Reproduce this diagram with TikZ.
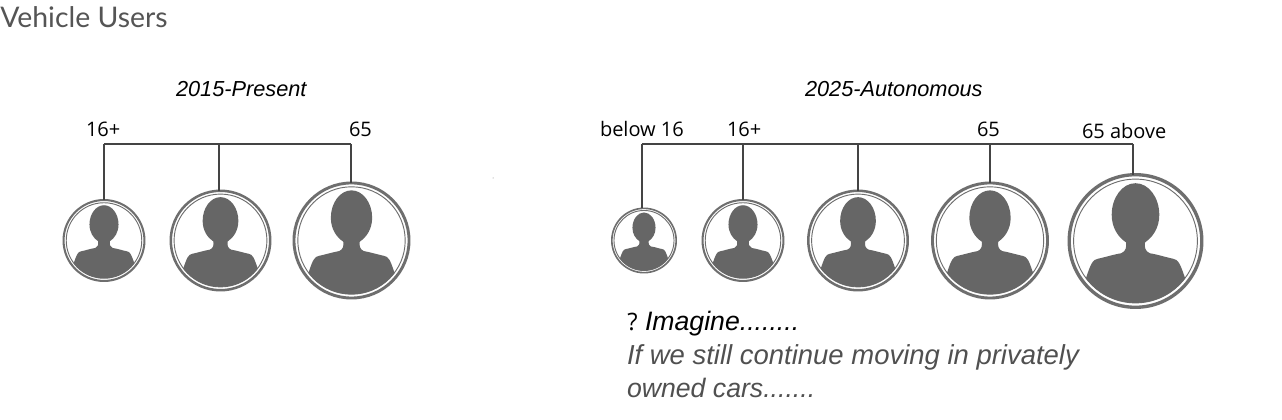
\documentclass[tikz,border=0pt]{standalone}
\usepackage{fontspec}
\setmainfont{Open Sans}
\newfontfamily\headfont{Lato}
\newfontfamily\notefont{Liberation Sans}
\definecolor{figgray}{HTML}{666666}
\definecolor{ringgray}{HTML}{6E6E6E}
\definecolor{wiregray}{HTML}{444444}
\definecolor{notegray}{HTML}{505050}
\definecolor{headgray}{HTML}{555555}
\tikzset{
  wire/.style={draw=wiregray,line width=1.15pt},
  agelabel/.style={anchor=base west,inner sep=0pt,outer sep=0pt,text=black,font=\fontsize{15}{18}\selectfont},
  yeartitle/.style={anchor=base west,inner sep=0pt,outer sep=0pt,text=black,font=\notefont\fontsize{16.3}{20}\selectfont\itshape},
  notetext/.style={anchor=base west,inner sep=0pt,outer sep=0pt,text=notegray,font=\notefont\fontsize{20.6}{24}\selectfont\itshape},
}
% name, cx, cy, outer radius in px
\newcommand{\personfig}[4]{%
  \node[circle,draw=ringgray,fill=white,inner sep=0pt,outer sep=0pt,
        line width={#4*0.037pt},minimum size={(#4*0.975)*1.5pt}] (#1) at (#2,#3) {};
  \begin{scope}[shift={(#2,#3)},scale=#4]
    \draw[ringgray,line width=0.7pt] (0,0) circle[radius=0.91];
    \fill[figgray] (0,-.85)
      .. controls (.193,-.85) and (.35,-.64) .. (.35,-.386)
      .. controls (.35,-.2) and (.26,-.06) .. (.14,.02)
      .. controls (.13,.09) and (.14,.15) .. (.21,.18)
      .. controls (.33,.2) and (.45,.24) .. (.55,.26)
      .. controls (.63,.27) and (.66,.34) .. (.73,.55)
      .. controls (.555,.78) and (.283,.91) .. (0,.91)
      .. controls (-.283,.91) and (-.555,.78) .. (-.73,.55)
      .. controls (-.66,.34) and (-.63,.27) .. (-.55,.26)
      .. controls (-.45,.24) and (-.33,.2) .. (-.21,.18)
      .. controls (-.14,.15) and (-.13,.09) .. (-.14,.02)
      .. controls (-.26,-.06) and (-.35,-.2) .. (-.35,-.386)
      .. controls (-.35,-.64) and (-.193,-.85) .. (0,-.85) -- cycle;
  \end{scope}}
\begin{document}
\begin{tikzpicture}[x=0.75pt,y=-0.75pt]
\useasboundingbox (0,0) rectangle (1282,420);
\fill[white] (0,0) rectangle (1282,420);

\node[anchor=base west,inner sep=0pt,text=headgray,font=\headfont\fontsize{21.3}{26}\selectfont] (head) at (0,28) {Vehicle Users};

% left group
\node[yeartitle] (t1) at (176,96.5) {2015-Present};
\node[agelabel] (l1) at (86,136.5) {16+};
\node[agelabel] (l2) at (349,136.5) {65};
\coordinate (a1) at (104,144);
\coordinate (a2) at (219,144);
\coordinate (a3) at (351,144);
\personfig{p1}{104}{240.5}{41.5}
\personfig{p2}{220.5}{240.5}{51}
\personfig{p3}{351.5}{240.5}{59}
\draw[wire] (a1) -- (a3);
\draw[wire] (a1) -- (a1 |- p1.north);
\draw[wire] (a2) -- (a2 |- p2.north);
\draw[wire] (a3) -- (a3 |- p3.north);

% right group
\node[yeartitle] (t2) at (805,96.5) {2025-Autonomous};
\node[agelabel] (r1) at (600,136.5) {below 16};
\node[agelabel] (r2) at (727,136.5) {16+};
\node[agelabel] (r3) at (977,136.5) {65};
\node[agelabel] (r4) at (1082,138.5) {65 above};
\coordinate (b1) at (642,144);
\coordinate (b2) at (743,144);
\coordinate (b3) at (858,144);
\coordinate (b4) at (990,144);
\coordinate (b5) at (1133,144);
\personfig{q1}{644}{240.5}{33}
\personfig{q2}{743}{240.5}{41.5}
\personfig{q3}{858}{240.5}{51}
\personfig{q4}{990}{240.5}{59}
\personfig{q5}{1135.5}{241}{68}
\draw[wire] (b1) -- (b5);
\draw[wire] (b1) -- (b1 |- q1.north);
\draw[wire] (b2) -- (b2 |- q2.north);
\draw[wire] (b3) -- (b3 |- q3.north);
\draw[wire] (b4) -- (b4 |- q4.north);
\draw[wire] (b5) -- (b5 |- q5.north);

% note
\node[anchor=base west,inner sep=0pt,text=black,font=\fontsize{18}{22}\selectfont] (n0) at (627,330) {?};
\node[anchor=base west,inner sep=0pt,outer sep=0pt,text=black,font=\notefont\fontsize{20}{24}\selectfont\itshape] (n1) at (645,330) {Imagine........};
\node[notetext] (n2) at (627,364) {If we still continue moving in privately};
\node[notetext,font=\notefont\fontsize{20}{24}\selectfont\itshape] (n3) at (627,397.5) {owned cars.......};

% speck
\fill[gray] (493,178) circle[radius=0.5];
\end{tikzpicture}
\end{document}
